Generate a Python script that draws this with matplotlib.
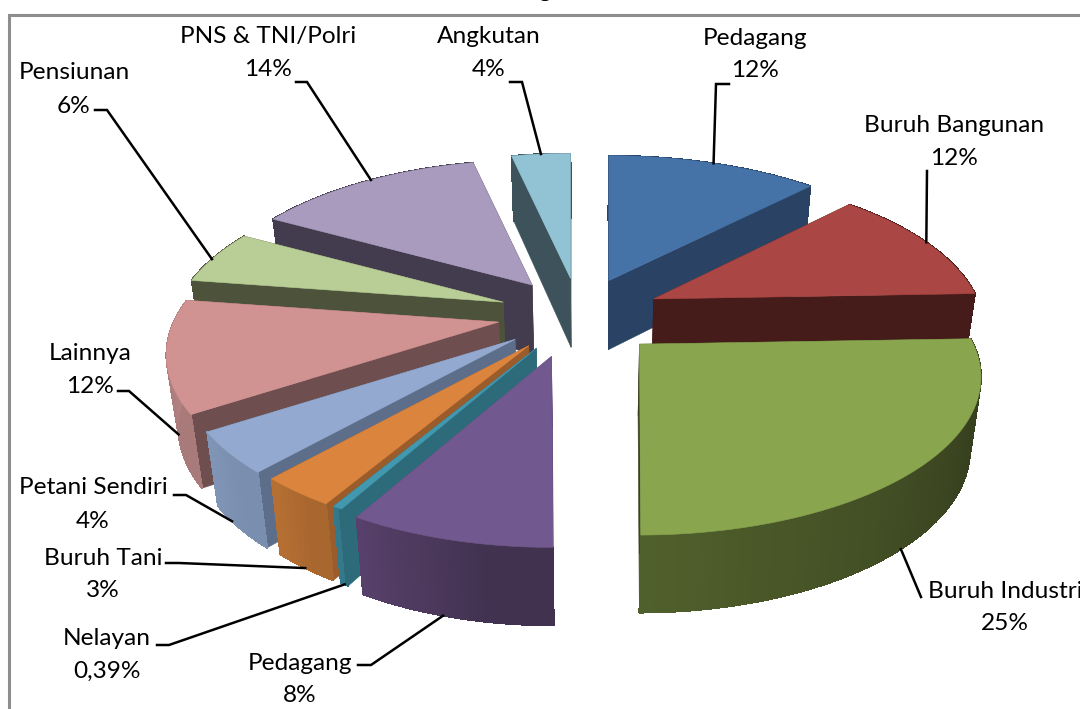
import numpy as np
import matplotlib
matplotlib.use("Agg")
import matplotlib.pyplot as plt
from matplotlib.colors import to_rgb
from matplotlib.patches import Polygon

# slices clockwise from 12 o'clock, shares estimated around the printed labels
names = ["Pedagang", "Buruh Bangunan", "Buruh Industri", "Pedagang", "Nelayan", "Buruh Tani",
         "Petani Sendiri", "Lainnya", "Pensiunan", "PNS & TNI/Polri", "Angkutan"]
pct_labels = ["12%", "12%", "25%", "8%", "0,39%", "3%", "4%", "12%", "6%", "14%", "4%"]
shares = [12.2, 12.2, 25.49, 8.2, 0.39, 3.1, 4.2, 11.5, 5.6, 13.5, 3.5]

top_colors = ["#4572a7", "#aa4643", "#89a54e", "#71588f", "#4198af", "#db843d",
              "#93a9cf", "#d19392", "#b9cd96", "#a99bbd", "#92c3d4"]
cut_colors = ["#2a4365", "#451c1a", "#3a4321", "#5f4b7d", "#2d6a7a", "#9a5c2a",
              "#5d6e8a", "#6e4e4e", "#4d533a", "#433c4e", "#3d525a"]
rim_dark = ["#2a4365", "#451c1a", "#38411f", "#413250", "#2d6a7a", "#a8672e",
            "#7a8fb0", "#a97a7a", "#4d533a", "#433c4e", "#3d525a"]
rim_light = ["#2a4365", "#451c1a", "#50602c", "#574069", "#33788b", "#b56f33",
             "#8095b5", "#b88484", "#4d533a", "#433c4e", "#3d525a"]

# label layout in pixels
label_x = [755, 954, 1005, 300, 107, 103, 93, 90, 74, 268, 489]
label_y1 = [37, 124, 590, 662, 637, 557, 486, 352, 71, 35, 35]
label_y2 = [69, 157, 622, 694, 670, 589, 520, 385, 105, 68, 68]
leader_from = [(729, 84), (927, 171), (921, 597), (358, 665), (157, 645), (166, 563),
               (174, 495), (118, 391), (95, 110), (296, 82), (510, 82)]
leader_elbow = [(716, 84), (927, 171), (921, 597), (371, 665), (169, 645), (179, 563),
                (186, 495), (129, 391), (107, 110), (307, 82), (522, 82)]
leader_frac = [0.5, 0.5, 0.53, 0.55, 0.5, 0.5, 0.65, 0.35, 0.45, 0.53, 0.5]
leader_depth = [0, 0, 1, 1, 1, 1, 1, 0.85, 0, 0, 0]
slice_shift = [(0, 0), (0, 0), (-2, 3), (-6, 4), (0, 0), (0, 0), (0, 0), (0, 0), (0, 0), (0, 0), (0, 0)]
slice_radius = [1, 0.97, 1, 1, 1, 1, 1, 1, 1, 1, 1]

CENTER = (579, 314)
EXPLODE = 0.25
A_RIGHT, A_LEFT, B, K = 334, 325, 151, 0.209
VANISH_X = 590


def flat(x, y):
    s = 1 / (1 + K * y)
    return np.where(x < 0, A_LEFT, A_RIGHT) * x * s, -B * y * s


def bottom(px, py):
    return VANISH_X + (px - VANISH_X) * 0.972, py + 65 + (py - 157) * 13 / 391


def blend(c1, c2, t):
    c1, c2 = np.array(to_rgb(c1)), np.array(to_rgb(c2))
    return tuple(c1 + (c2 - c1) * t)


fig = plt.figure(figsize=(10.8, 7.09), dpi=100)
ax = fig.add_axes([0, 0, 1, 1])
ax.set_xlim(0, 1080)
ax.set_ylim(709, 0)
ax.axis("off")

ax.plot([9, 9, 1080], [709, 15, 15], color="#8e8e8e", lw=2.2, solid_joinstyle="miter")
ax.text(545, -4, "g", family="Liberation Serif", weight="bold", fontsize=15, ha="center", va="baseline")

edges = np.radians(np.cumsum([0] + shares) / sum(shares) * 360)
mids = (edges[:-1] + edges[1:]) / 2
order = np.argsort(-np.cos(mids))
leader_ends = {}

for rank, i in enumerate(order):
    z = 2 + rank * 0.01
    mid = mids[i]
    ox, oy = flat(EXPLODE * np.sin(mid), EXPLODE * np.cos(mid))
    apex = (CENTER[0] + ox + slice_shift[i][0], CENTER[1] + oy + slice_shift[i][1])
    th = np.linspace(edges[i], edges[i + 1], max(int((edges[i + 1] - edges[i]) * 60), 3))
    rx, ry = flat(np.sin(th), np.cos(th))
    rx, ry = apex[0] + rx * slice_radius[i], apex[1] + ry
    bx, by = bottom(rx, ry)
    apex_b = bottom(*apex)

    # cut faces
    for j in (0, -1):
        ax.add_patch(Polygon([apex, (rx[j], ry[j]), (bx[j], by[j]), apex_b],
                             fc=cut_colors[i], ec=cut_colors[i], lw=0.4, zorder=z))
    # outer wall, shaded piece by piece
    for j in range(len(th) - 1):
        t = j / (len(th) - 2) if len(th) > 2 else 0
        c = blend(rim_dark[i], rim_light[i], min(1, max(0, (t - 0.3) / 0.7)))
        ax.add_patch(Polygon([(rx[j], ry[j]), (rx[j + 1], ry[j + 1]), (bx[j + 1], by[j + 1]), (bx[j], by[j])],
                             fc=c, ec=c, lw=0.6, antialiased=False, zorder=z))
    ax.add_patch(Polygon([apex] + list(zip(rx, ry)), fc=top_colors[i], ec=top_colors[i], lw=0.4, zorder=z))

    a = edges[i] + (edges[i + 1] - edges[i]) * leader_frac[i]
    mx, my = flat(np.sin(a), np.cos(a))
    mx, my = apex[0] + mx * slice_radius[i], apex[1] + my
    ex, ey = bottom(mx, my)
    d = leader_depth[i]
    leader_ends[i] = (mx + (ex - mx) * d, my + (ey - my) * d)

for i in range(len(names)):
    ax.plot([leader_from[i][0], leader_elbow[i][0], leader_ends[i][0]],
            [leader_from[i][1], leader_elbow[i][1], leader_ends[i][1]],
            color="black", lw=1.8, zorder=3, solid_joinstyle="miter")
    ax.text(label_x[i], label_y1[i] + 1.5, names[i], family="Lato", fontsize=17.6, ha="center", va="center", zorder=4)
    ax.text(label_x[i], label_y2[i] + 1.5, pct_labels[i], family="Lato", fontsize=17.6, ha="center", va="center", zorder=4)

fig.savefig("out.png", dpi=100, facecolor="white")
